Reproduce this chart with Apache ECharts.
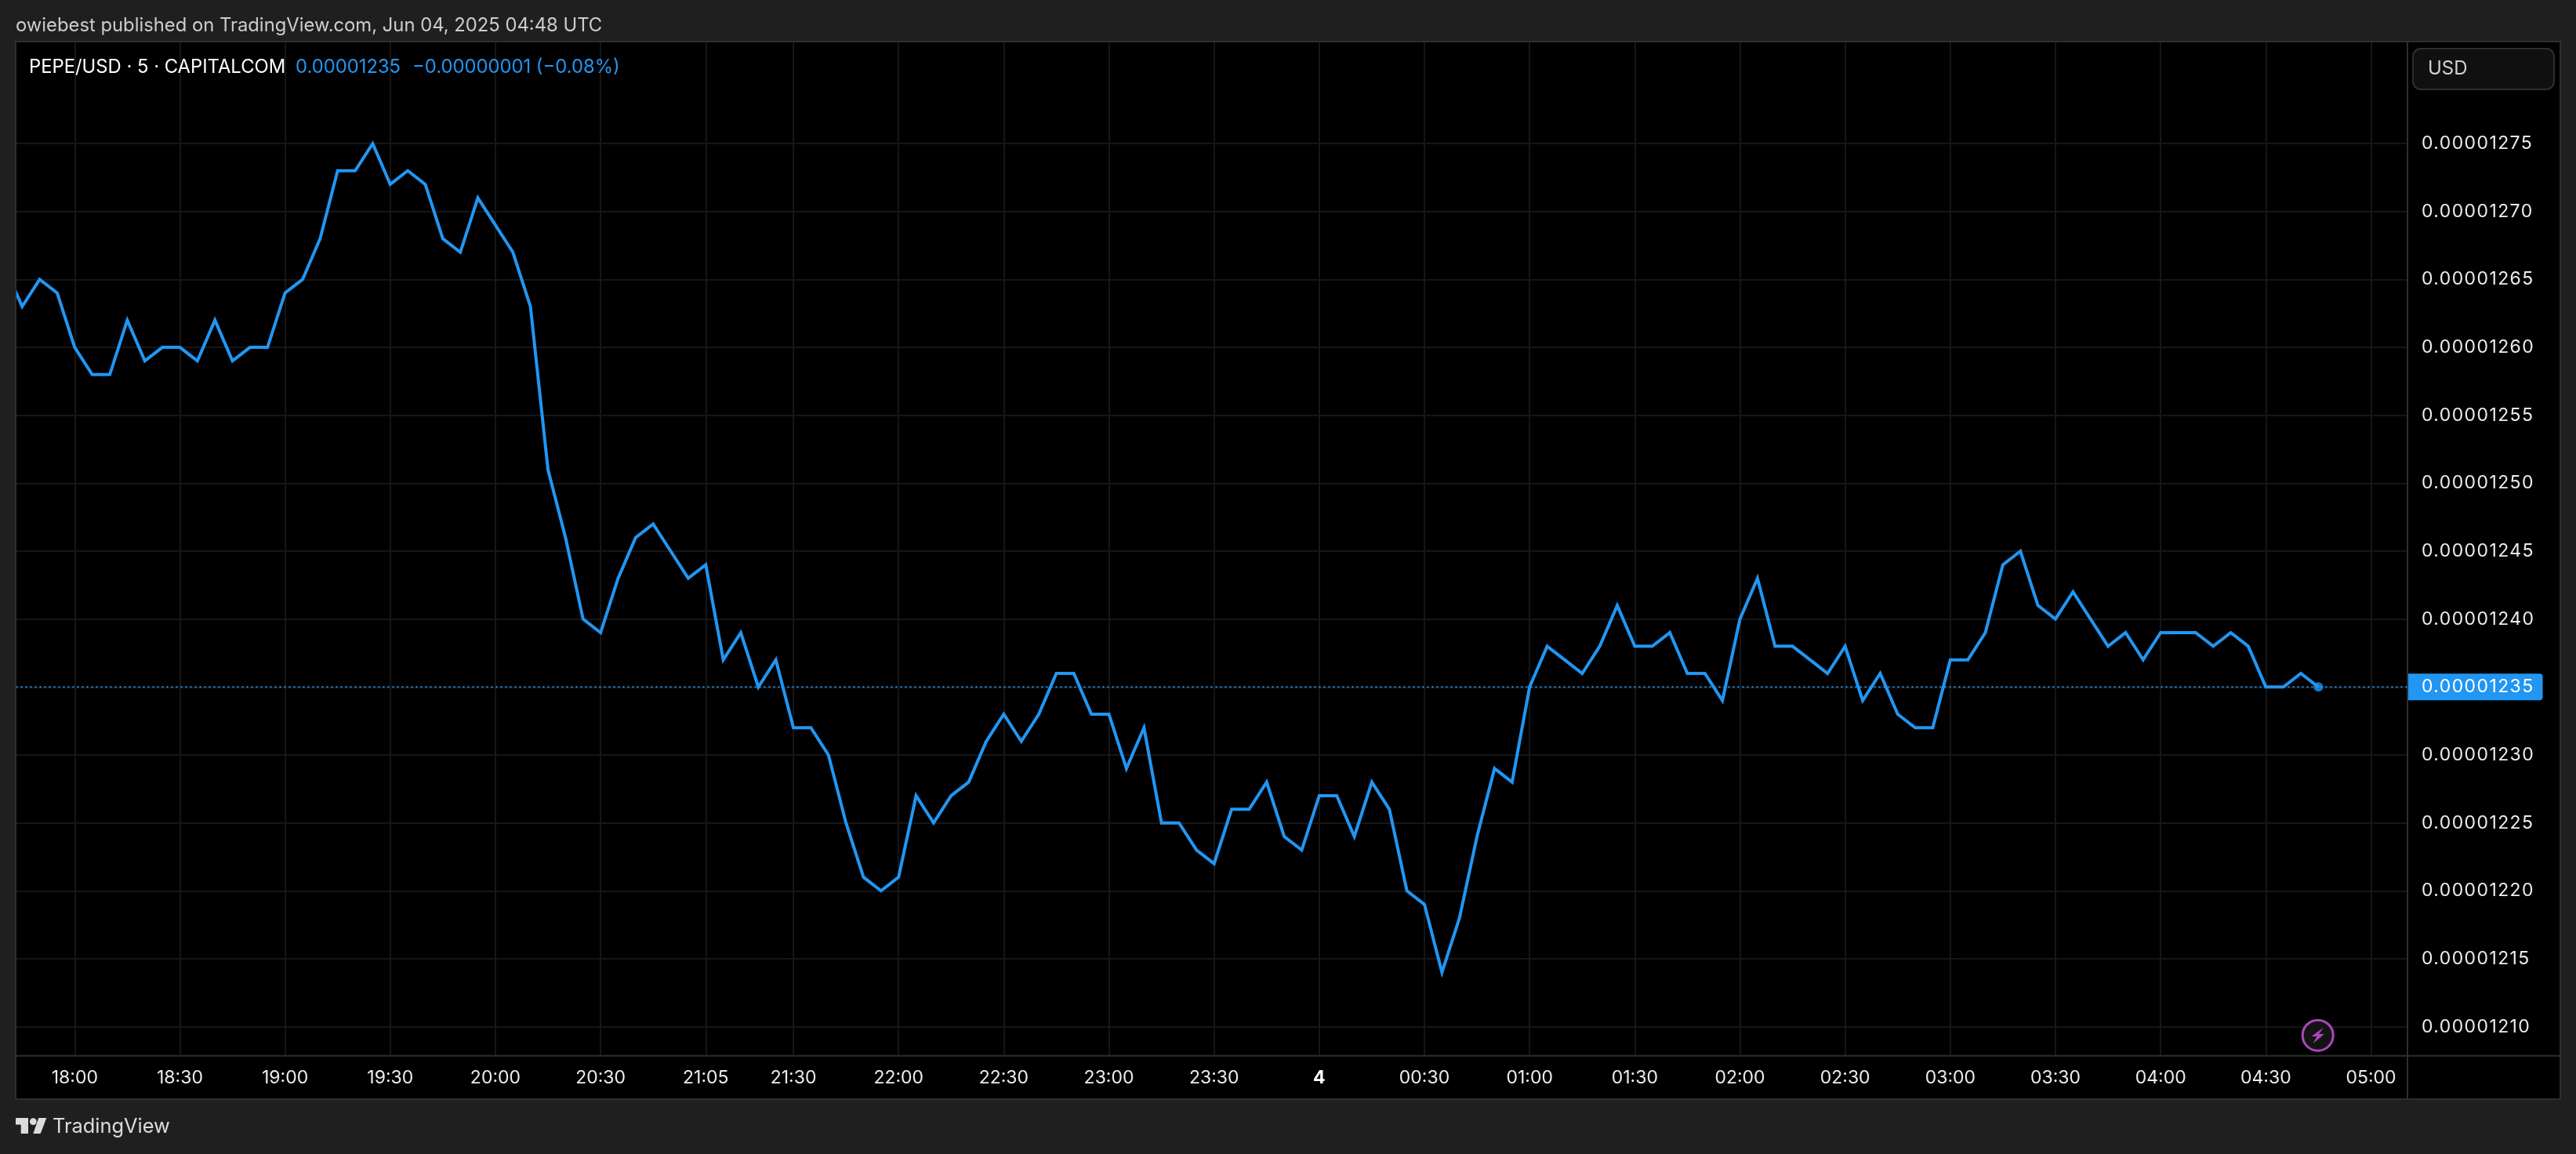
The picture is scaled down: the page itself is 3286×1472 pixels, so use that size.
<!DOCTYPE html>
<html><head><meta charset="utf-8">
<style>html,body{margin:0;padding:0;background:#1f1f1f}#c{width:3286px;height:1472px}</style>
<script src="https://cdn.jsdelivr.net/npm/echarts@6/dist/echarts.min.js"></script>
</head><body><div id="c"></div>
<script>
// Close prices, one per 5-minute bar (the 21:00 bar does not exist)
const prices = [
0.00001266,0.00001263,0.00001265,0.00001264,
0.00001260,0.00001258,0.00001258,0.00001262,0.00001259,0.00001260,0.00001260,0.00001259,0.00001262,0.00001259,0.00001260,0.00001260,
0.00001264,0.00001265,0.00001268,0.00001273,0.00001273,0.00001275,0.00001272,0.00001273,0.00001272,0.00001268,0.00001267,0.00001271,
0.00001269,0.00001267,0.00001263,0.00001251,0.00001246,0.00001240,0.00001239,0.00001243,0.00001246,0.00001247,0.00001245,0.00001243,
0.00001244,0.00001237,0.00001239,0.00001235,0.00001237,0.00001232,0.00001232,0.00001230,0.00001225,0.00001221,0.00001220,0.00001221,
0.00001227,0.00001225,0.00001227,0.00001228,0.00001231,0.00001233,0.00001231,0.00001233,0.00001236,0.00001236,0.00001233,0.00001233,
0.00001229,0.00001232,0.00001225,0.00001225,0.00001223,0.00001222,0.00001226,0.00001226,0.00001228,0.00001224,0.00001223,0.00001227,
0.00001227,0.00001224,0.00001228,0.00001226,0.00001220,0.00001219,0.00001214,0.00001218,0.00001224,0.00001229,0.00001228,0.00001235,
0.00001238,0.00001237,0.00001236,0.00001238,0.00001241,0.00001238,0.00001238,0.00001239,0.00001236,0.00001236,0.00001234,0.00001240,
0.00001243,0.00001238,0.00001238,0.00001237,0.00001236,0.00001238,0.00001234,0.00001236,0.00001233,0.00001232,0.00001232,0.00001237,
0.00001237,0.00001239,0.00001244,0.00001245,0.00001241,0.00001240,0.00001242,0.00001240,0.00001238,0.00001239,0.00001237,0.00001239,
0.00001239,0.00001239,0.00001238,0.00001239,0.00001238,0.00001235,0.00001235,0.00001236,0.00001235
];
const firstBar = -4; // bar number of prices[0]; bar 0 is 18:00
const timeTickBars = [0,6,12,18,24,30,36,41,47,53,59,65,71,77,83,89,95,101,107,113,119,125,131];
const timeTickLabels = ['18:00','18:30','19:00','19:30','20:00','20:30','21:05','21:30','22:00','22:30','23:00','23:30','4','00:30','01:00','01:30','02:00','02:30','03:00','03:30','04:00','04:30','05:00'];
const boldTimeLabels = ['4'];
const priceTicks = [0.00001210,0.00001215,0.00001220,0.00001225,0.00001230,0.00001235,0.00001240,0.00001245,0.00001250,0.00001255,0.00001260,0.00001265,0.00001270,0.00001275];
const lastPrice = 0.00001235;
const xRange = [-3.345,133.08];
const yRange = [0.0000120787,0.0000128248];

// The price scale's digits are tracked wider than the font's default
const plainFillText = CanvasRenderingContext2D.prototype.fillText;
CanvasRenderingContext2D.prototype.fillText = function(t,x,y,w){
  const priceScaleText = /^0\.0000\d+$/.test(t) && this.font.indexOf('23px')>=0;
  if(!priceScaleText) return w===undefined ? plainFillText.call(this,t,x,y) : plainFillText.call(this,t,x,y,w);
  this.save();
  this.letterSpacing='1.4px';
  plainFillText.call(this,t,x,y);
  this.restore();
};

const BLUE='#2196f3', FONT='Inter, "Noto Sans", sans-serif', AXISTEXT='#ececec', BORDER='#2e2e2e', GRIDC='#161616';
const L=20.5,R=3071,T=53.5,B=1346.5;
const series = prices.map((p,i)=>[i+firstBar,p]);
const last = series[series.length-1];
const labelOf = Object.fromEntries(timeTickBars.map((b,i)=>[b,timeTickLabels[i]]));

const chart = echarts.init(document.getElementById('c'),null,{renderer:'canvas',width:3286,height:1472});
chart.setOption({
  animation:false,
  backgroundColor:'#1f1f1f',
  grid:{left:L,top:T,width:R-L,height:B-T,backgroundColor:'#000',show:true,borderWidth:0},
  xAxis:{type:'value',min:xRange[0],max:xRange[1],
    axisLine:{show:false},
    axisTick:{show:false,customValues:timeTickBars},
    splitLine:{show:true,lineStyle:{color:GRIDC,width:2}},
    axisLabel:{customValues:timeTickBars,color:AXISTEXT,fontFamily:FONT,fontSize:23,margin:17,
      hideOverlap:false,showMinLabel:true,showMaxLabel:true,
      formatter:v=>boldTimeLabels.includes(labelOf[v])?'{b|'+labelOf[v]+'}':labelOf[v],
      rich:{b:{fontWeight:'bold',color:'#ffffff',fontFamily:FONT,fontSize:23}}}
  },
  yAxis:{type:'value',position:'right',min:yRange[0],max:yRange[1],scale:true,
    axisLine:{show:false},
    axisTick:{show:false,customValues:priceTicks},
    splitLine:{show:true,lineStyle:{color:GRIDC,width:2}},
    axisLabel:{customValues:priceTicks,color:AXISTEXT,fontFamily:FONT,fontSize:23,margin:18,
      padding:[3,0,0,0],align:'left',formatter:v=>v.toFixed(8)}
  },
  graphic:[
    {type:'rect',silent:true,z:0,shape:{x:20,y:53,width:3246,height:1349},style:{fill:'#000'}},
    {type:'rect',silent:true,z:40,shape:{x:0,y:53,width:19.5,height:1300},style:{fill:'#1f1f1f'}},
    {type:'rect',silent:true,z:41,shape:{x:20,y:53,width:3246,height:1349},style:{fill:'none',stroke:BORDER,lineWidth:2}},
    {type:'line',silent:true,z:2,shape:{x1:20,y1:1346.7,x2:3266,y2:1346.7},style:{stroke:BORDER,lineWidth:2}},
    {type:'line',silent:true,z:2,shape:{x1:3071,y1:53,x2:3071,y2:1402},style:{stroke:BORDER,lineWidth:2}},
    {type:'text',silent:true,z:60,x:20,y:33,style:{text:'owiebest published on TradingView.com, Jun 04, 2025 04:48 UTC',fill:'#cccccc',font:'23.8px '+FONT,textVerticalAlign:'middle'}},
    {type:'text',silent:true,z:60,x:37,y:86,style:{text:'PEPE/USD · 5 · CAPITALCOM',fill:'#ffffff',font:'23.8px '+FONT,textVerticalAlign:'middle'}},
    {type:'text',silent:true,z:60,x:377,y:86,style:{text:'0.00001235',fill:BLUE,font:'23.8px '+FONT,textVerticalAlign:'middle'}},
    {type:'text',silent:true,z:60,x:526,y:86,style:{text:'−0.00000001 (−0.08%)',fill:BLUE,font:'23.8px '+FONT,textVerticalAlign:'middle'}},
    {type:'rect',silent:true,z:60,shape:{x:3078,y:62,width:180,height:52,r:10},style:{fill:'#101010',stroke:BORDER,lineWidth:2}},
    {type:'text',silent:true,z:61,x:3097,y:88,style:{text:'USD',fill:'#d1d1d1',font:'24px '+FONT,textVerticalAlign:'middle'}},
    {type:'circle',silent:true,z:60,shape:{cx:2956.7,cy:1320.7,r:19.5},style:{fill:'#131313',stroke:'#ab47bc',lineWidth:3}},
    {type:'polygon',silent:true,z:61,shape:{points:[[2964,1310.5],[2948.5,1322],[2955.5,1322],[2950.5,1331],[2965,1319],[2958,1319]]},style:{fill:'#ab47bc'}},
    {type:'text',silent:true,z:60,x:67,y:1437,style:{text:'TradingView',fill:'#dcdcdc',font:'25.4px '+FONT,textVerticalAlign:'middle'}},
    {type:'polygon',silent:true,z:60,shape:{points:[[20,1426],[36,1426],[36,1446],[26.7,1446],[26.7,1434.5],[20,1434.5]]},style:{fill:'#dcdcdc'}},
    {type:'circle',silent:true,z:60,shape:{cx:42.3,cy:1430.7,r:4.4},style:{fill:'#dcdcdc'}},
    {type:'polygon',silent:true,z:60,shape:{points:[[49.3,1426],[59.3,1426],[51.7,1446],[42.3,1446]]},style:{fill:'#dcdcdc'}}
  ],
  series:[
    {type:'line',data:[[xRange[0],lastPrice],[xRange[1],lastPrice]],showSymbol:false,symbol:'none',silent:true,z:4,
      lineStyle:{color:BLUE,type:[2,4],width:2},
      endLabel:{show:true,distance:1,formatter:()=>lastPrice.toFixed(8),color:'#fff',backgroundColor:BLUE,
        fontFamily:FONT,fontSize:23,lineHeight:22,padding:[6,25,6,17],borderRadius:[0,4,4,0]}
    },
    {type:'line',data:series,showSymbol:false,symbol:'none',silent:true,clip:true,z:5,
      lineStyle:{color:BLUE,width:4,join:'miter'}},
    {type:'scatter',data:[last],symbol:'circle',symbolSize:12,silent:true,itemStyle:{color:BLUE},z:6}
  ]
});
</script></body></html>
